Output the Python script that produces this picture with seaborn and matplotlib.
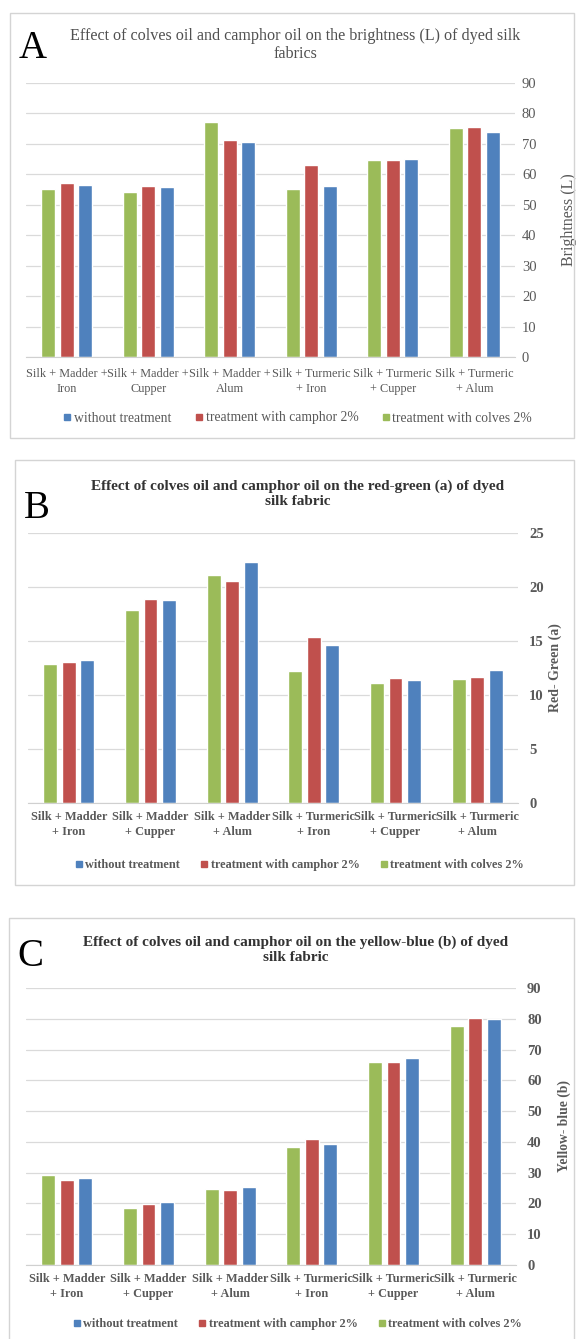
import numpy as np
import pandas as pd
import matplotlib
matplotlib.use("Agg")
import matplotlib.pyplot as plt
import seaborn as sns
from matplotlib.lines import Line2D
from matplotlib.patches import Rectangle

# categories
cats_a = ["Silk + Madder +\nIron", "Silk + Madder +\nCupper", "Silk + Madder +\nAlum",
          "Silk + Turmeric\n+ Iron", "Silk + Turmeric\n+ Cupper", "Silk + Turmeric\n+ Alum"]
cats_bc = ["Silk + Madder\n+ Iron", "Silk + Madder\n+ Cupper", "Silk + Madder\n+ Alum",
           "Silk + Turmeric\n+ Iron", "Silk + Turmeric\n+ Cupper", "Silk + Turmeric\n+ Alum"]
series = ["treatment with colves 2%", "treatment with camphor 2%", "without treatment"]
colors = ["#9BBB59", "#C0504D", "#4F81BD"]

# A - brightness (L)
l_colves = [55.3, 54.1, 77.2, 55.3, 64.8, 75.2]
l_camphor = [57.2, 56.3, 71.4, 63.0, 64.8, 75.4]
l_without = [56.5, 56.0, 70.5, 56.3, 65.0, 73.8]
# B - red-green (a)
a_colves = [12.9, 17.9, 21.1, 12.2, 11.1, 11.5]
a_camphor = [13.1, 18.9, 20.6, 15.4, 11.6, 11.7]
a_without = [13.2, 18.8, 22.3, 14.6, 11.4, 12.3]
# C - yellow-blue (b)
b_colves = [29.3, 18.6, 24.6, 38.3, 66.0, 77.5]
b_camphor = [27.7, 19.8, 24.3, 41.0, 66.0, 80.3]
b_without = [28.4, 20.4, 25.2, 39.2, 67.3, 79.8]

W, H = 577, 1339

sns.set_style("white")
plt.rcParams["font.family"] = ["Liberation Serif", "DejaVu Serif"]

fig = plt.figure(figsize=(W / 100, H / 100), dpi=100)


def px_box(l, t, r, b):
    return [l / W, 1 - b / H, (r - l) / W, (b - t) / H]


def frame(l, t, r, b):
    fig.add_artist(Rectangle((l / W, 1 - b / H), (r - l) / W, (b - t) / H,
                             transform=fig.transFigure, fill=False,
                             ec="#d4d4d4", lw=1.0))


def long_df(cats, vals):
    rows = []
    for s, v in zip(series, vals):
        for c, y in zip(cats, v):
            rows.append({"cat": c, "series": s, "val": y})
    return pd.DataFrame(rows)


panels = [
    dict(cats=cats_a, vals=[l_colves, l_camphor, l_without], box=(26, 83, 515, 357),
         ylim=90, step=10, ylabel="Brightness (L)", ylab_x=1.095, ylab_size=11.5, bold=False,
         title="Effect of colves oil and camphor oil on the brightness (L) of dyed silk\nfabrics",
         title_xy=(295, 45), letter="A", letter_xy=(33, 48), frame=(10, 13, 574, 438),
         leg_xy=(297, 418), tick_pad=5, x_pad=8, tsize=11.6, csize=8.8, lsize=9.8),
    dict(cats=cats_bc, vals=[a_colves, a_camphor, a_without], box=(28, 533, 518, 803),
         ylim=25, step=5, ylabel="Red- Green (a)", ylab_x=1.062, ylab_size=10, bold=True,
         title="Effect of colves oil and camphor oil on the red-green (a) of dyed\nsilk fabric",
         title_xy=(298, 494), letter="B", letter_xy=(37, 509), frame=(15, 460, 574, 885),
         leg_xy=(299, 865), tick_pad=8, x_pad=6, tsize=11, csize=8.8, lsize=8.8),
    dict(cats=cats_bc, vals=[b_colves, b_camphor, b_without], box=(26, 988, 516, 1265),
         ylim=90, step=10, ylabel="Yellow- blue (b)", ylab_x=1.084, ylab_size=9.8, bold=True,
         title="Effect of colves oil and camphor oil on the yellow-blue (b) of dyed\nsilk fabric",
         title_xy=(296, 950), letter="C", letter_xy=(30, 956), frame=(9, 918, 574, 1345),
         leg_xy=(297, 1324), tick_pad=8, x_pad=6, tsize=11, csize=8.8, lsize=8.8),
]

for p in panels:
    frame(*p["frame"])
    ax = fig.add_axes(px_box(*p["box"]))
    df = long_df(p["cats"], p["vals"])
    sns.barplot(data=df, x="cat", y="val", hue="series", hue_order=series,
                palette=colors, saturation=1, width=0.68, gap=0.26,
                legend=False, ax=ax)
    weight = "bold" if p["bold"] else "normal"
    ax.set_ylim(0, p["ylim"])
    ax.set_yticks(np.arange(0, p["ylim"] + 1, p["step"]))
    ax.set_xlim(-0.5, 5.5)
    ax.yaxis.tick_right()
    ax.yaxis.set_label_position("right")
    ax.grid(axis="y", color="#dadada", lw=0.9)
    ax.set_axisbelow(True)
    for s in ["top", "left", "right"]:
        ax.spines[s].set_visible(False)
    ax.spines["bottom"].set_color("#d0d0d0")
    ax.tick_params(axis="y", length=0, pad=p["tick_pad"], labelsize=10.5, labelcolor="#595959")
    ax.tick_params(axis="x", length=0, pad=p["x_pad"], labelsize=p["csize"], labelcolor="#595959")
    for t in ax.get_yticklabels() + ax.get_xticklabels():
        t.set_fontweight(weight)
    for t in ax.get_xticklabels():
        t.set_linespacing(1.3)
    ax.set_xlabel("")
    ax.set_ylabel(p["ylabel"], fontsize=p["ylab_size"],
                  color="#595959", fontweight=weight, rotation=90)
    ax.yaxis.set_label_coords(p["ylab_x"], 0.5)

    tx, ty = p["title_xy"]
    fig.text(tx / W, 1 - ty / H, p["title"], ha="center", va="center",
             fontsize=p["tsize"], color="#505050" if not p["bold"] else "#333333",
             fontweight=weight, linespacing=1.2)
    lx, ly = p["letter_xy"]
    fig.text(lx / W, 1 - ly / H, p["letter"], ha="center", va="center",
             fontsize=28, color="black")

    handles = [Line2D([], [], marker="s", ls="", color=c, markersize=4.5)
               for c in colors[::-1]]
    gx, gy = p["leg_xy"]
    leg = fig.legend(handles, series[::-1], loc="center",
                     bbox_to_anchor=(gx / W, 1 - gy / H), ncol=3, frameon=False,
                     handletextpad=0.1, columnspacing=1.6, handlelength=0.8,
                     prop={"size": p["lsize"], "weight": weight})
    for t in leg.get_texts():
        t.set_color("#595959")

fig.savefig("out.png", dpi=100)
